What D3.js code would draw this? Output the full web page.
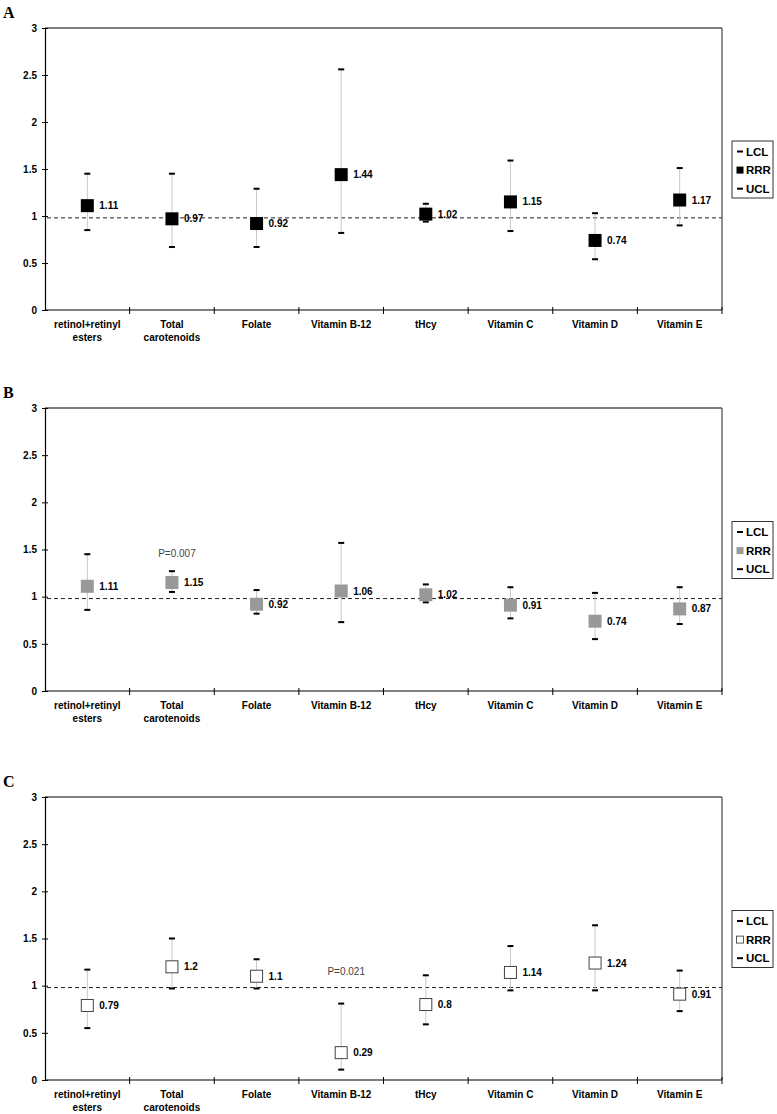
<!DOCTYPE html>
<html>
<head>
<meta charset="utf-8">
<script src="https://cdn.jsdelivr.net/npm/d3@7"></script>
<style>
  html, body { margin: 0; padding: 0; background: #fff; }
  svg { display: block; }
</style>
</head>
<body>
<svg id="chart" width="777" height="1114"></svg>
<script>
// ---------- data ----------
const categories = ["retinol+retinyl esters", "Total carotenoids", "Folate", "Vitamin B-12", "tHcy", "Vitamin C", "Vitamin D", "Vitamin E"];
const categoryLines = [["retinol+retinyl", "esters"], ["Total", "carotenoids"], ["Folate"], ["Vitamin B-12"], ["tHcy"], ["Vitamin C"], ["Vitamin D"], ["Vitamin E"]];
const yTicks = [0, 0.5, 1, 1.5, 2, 2.5, 3];
const yTickLabels = ["0", "0.5", "1", "1.5", "2", "2.5", "3"];
const legendLabels = ["LCL", "RRR", "UCL"];
const referenceValue = 0.98;

const rrrA = [1.11, 0.97, 0.92, 1.44, 1.02, 1.15, 0.74, 1.17];
const lclA = [0.85, 0.67, 0.67, 0.82, 0.94, 0.84, 0.54, 0.90];
const uclA = [1.45, 1.45, 1.29, 2.56, 1.13, 1.59, 1.03, 1.51];

const rrrB = [1.11, 1.15, 0.92, 1.06, 1.02, 0.91, 0.74, 0.87];
const lclB = [0.86, 1.05, 0.82, 0.73, 0.94, 0.77, 0.55, 0.71];
const uclB = [1.45, 1.27, 1.07, 1.57, 1.13, 1.10, 1.04, 1.10];

const rrrC = [0.79, 1.2, 1.1, 0.29, 0.8, 1.14, 1.24, 0.91];
const lclC = [0.55, 0.97, 0.97, 0.11, 0.59, 0.95, 0.95, 0.73];
const uclC = [1.17, 1.50, 1.28, 0.81, 1.11, 1.42, 1.64, 1.16];

// annotations: [category, y-value, text]
const noteB = ["Total carotenoids", 1.46, "P=0.007"];
const noteC = ["Vitamin B-12", 1.15, "P=0.021"];

// ---------- layout / style ----------
const panels = [
  { letter: "A", top: 28, bottom: 310, rrr: rrrA, lcl: lclA, ucl: uclA, note: null,
    fill: "#000", stroke: "none", size: 13 },
  { letter: "B", top: 408, bottom: 691, rrr: rrrB, lcl: lclB, ucl: uclB, note: noteB,
    fill: "#999", stroke: "none", size: 13 },
  { letter: "C", top: 797, bottom: 1080, rrr: rrrC, lcl: lclC, ucl: uclC, note: noteC,
    fill: "#fff", stroke: "#444", size: 12 }
];
const left = 45, right = 722;
const svg = d3.select("#chart");
const font = "'Liberation Sans', Arial, sans-serif";

const x = d3.scaleBand().domain(categories).range([left, right]).paddingInner(0).paddingOuter(0);

panels.forEach(p => {
  const y = d3.scaleLinear().domain([0, 3]).range([p.bottom, p.top]);
  const g = svg.append("g");

  // panel letter
  g.append("text").attr("x", 3).attr("y", p.top - 10)
    .attr("font-family", "'Liberation Serif', 'Times New Roman', serif")
    .attr("font-weight", "bold").attr("font-size", 16).text(p.letter);

  // frame top/right
  g.append("line").attr("x1", left).attr("x2", right).attr("y1", p.top).attr("y2", p.top)
    .attr("stroke", "#555").attr("stroke-width", 1.3);
  g.append("line").attr("x1", right).attr("x2", right).attr("y1", p.top).attr("y2", p.bottom)
    .attr("stroke", "#555").attr("stroke-width", 1.3);

  // y axis
  const yAxis = d3.axisLeft(y).tickValues(yTicks).tickFormat((d, i) => yTickLabels[i]).tickSize(3).tickPadding(5);
  const ya = g.append("g").attr("transform", `translate(${left},0)`).call(yAxis);
  ya.select(".domain").attr("stroke", "#000").attr("stroke-width", 1.2);
  ya.selectAll(".tick line").attr("x1", -3).attr("x2", 3).attr("stroke", "#000");
  ya.selectAll(".tick text").attr("font-family", font).attr("font-weight", "bold")
    .attr("font-size", 10).attr("fill", "#000");

  // x axis baseline
  g.append("line").attr("x1", left).attr("x2", right).attr("y1", p.bottom).attr("y2", p.bottom)
    .attr("stroke", "#000").attr("stroke-width", 1.2);
  const bounds = categories.map(c => x(c)).concat([right]);
  g.selectAll(".xt").data(bounds.slice(1)).enter().append("line")
    .attr("x1", d => d).attr("x2", d => d)
    .attr("y1", p.bottom - 3).attr("y2", p.bottom + 4)
    .attr("stroke", "#000").attr("stroke-width", 1);

  // category labels
  categories.forEach((c, i) => {
    const t = g.append("text").attr("text-anchor", "middle")
      .attr("font-family", font).attr("font-weight", "bold").attr("font-size", 10);
    categoryLines[i].forEach((ln, j) => {
      t.append("tspan").attr("x", x(c) + x.bandwidth() / 2)
        .attr("y", p.bottom + 17.5 + j * 13.5).text(ln);
    });
  });

  // reference dashed line
  g.append("line").attr("x1", left + 2).attr("x2", right)
    .attr("y1", y(referenceValue)).attr("y2", y(referenceValue))
    .attr("stroke", "#222").attr("stroke-width", 1).attr("stroke-dasharray", "4,3");

  // error bars
  categories.forEach((c, i) => {
    const cx = x(c) + x.bandwidth() / 2;
    g.append("line").attr("x1", cx).attr("x2", cx)
      .attr("y1", y(p.lcl[i])).attr("y2", y(p.ucl[i]))
      .attr("stroke", "#c8c8c8").attr("stroke-width", 1);
    [p.lcl[i], p.ucl[i]].forEach(v => {
      g.append("rect").attr("x", cx - 3).attr("y", y(v) - 1).attr("width", 6).attr("height", 2)
        .attr("fill", "#000");
    });
    const s = p.size;
    g.append("rect").attr("x", cx - s / 2).attr("y", y(p.rrr[i]) - s / 2)
      .attr("width", s).attr("height", s)
      .attr("fill", p.fill).attr("stroke", p.stroke).attr("stroke-width", p.stroke === "none" ? 0 : 1);
    g.append("text").attr("x", cx + 12).attr("y", y(p.rrr[i]) + 3.5)
      .attr("font-family", font).attr("font-weight", "bold").attr("font-size", 10)
      .text(String(p.rrr[i]));
  });

  // annotation
  if (p.note) {
    const cx = x(p.note[0]) + x.bandwidth() / 2;
    g.append("text").attr("x", cx + 5).attr("y", y(p.note[1]) + 3.5).attr("text-anchor", "middle")
      .attr("font-family", font).attr("font-size", 10).attr("fill", "#444").text(p.note[2]);
  }

  // legend
  const midY = (p.top + p.bottom) / 2;
  const lg = g.append("g").attr("transform", `translate(732,${midY - 28})`);
  lg.append("rect").attr("x", 0).attr("y", 0).attr("width", 41).attr("height", 57)
    .attr("fill", "#fff").attr("stroke", "#333").attr("stroke-width", 1);
  legendLabels.forEach((lab, j) => {
    const ly = 10.5 + j * 18.6;
    if (lab === "RRR") {
      lg.append("rect").attr("x", 4.5).attr("y", ly - 3.5).attr("width", 7).attr("height", 7)
        .attr("fill", p.fill).attr("stroke", p.stroke === "none" ? "none" : "#333").attr("stroke-width", 0.8);
    } else {
      lg.append("rect").attr("x", 5).attr("y", ly - 1).attr("width", 6).attr("height", 2).attr("fill", "#000");
    }
    lg.append("text").attr("x", 14).attr("y", ly + 4)
      .attr("font-family", font).attr("font-weight", "bold").attr("font-size", 11.5).text(lab);
  });
});
</script>
</body>
</html>
